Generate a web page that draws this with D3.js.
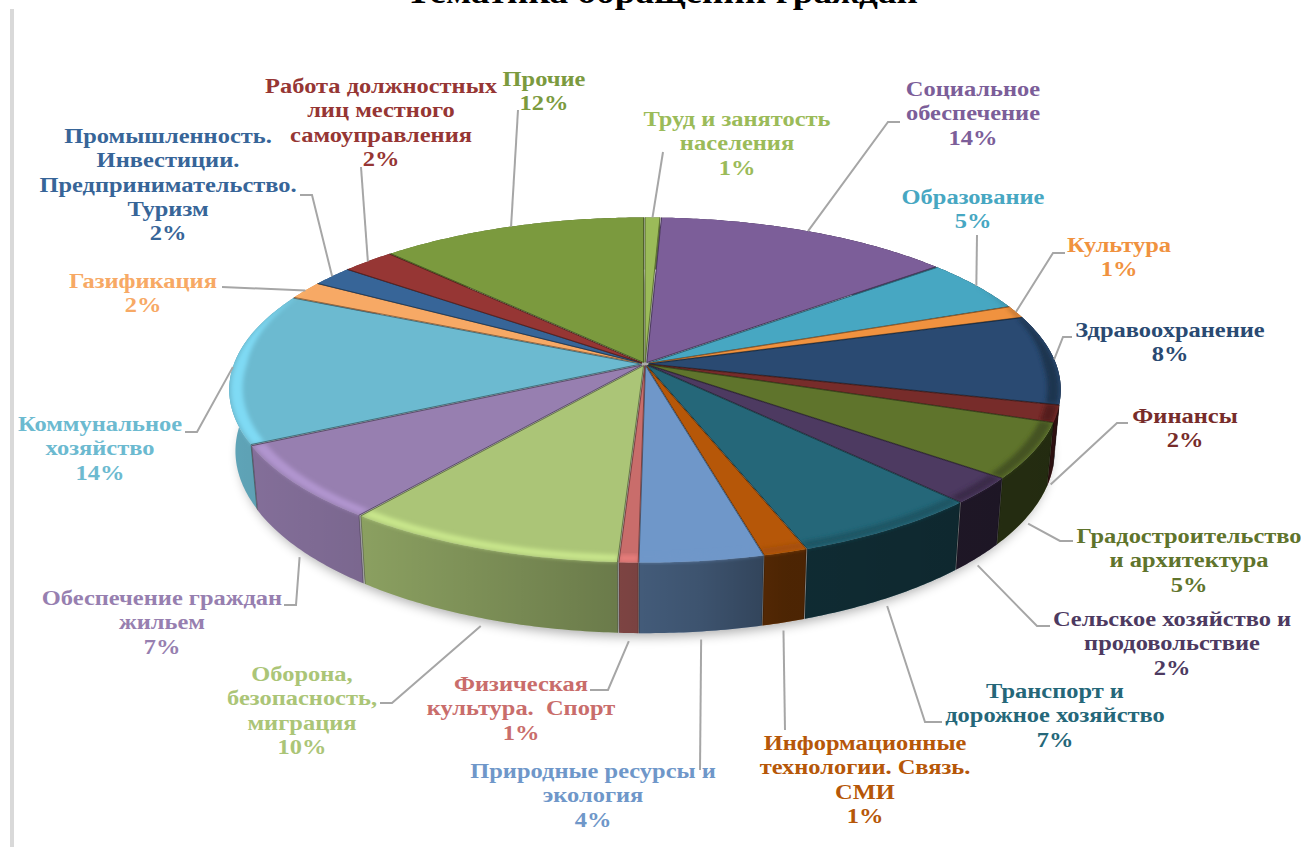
<!DOCTYPE html>
<html lang="ru">
<head>
<meta charset="utf-8">
<title>Тематика обращений граждан</title>
<script src="https://cdn.jsdelivr.net/npm/d3@7"></script>
<style>
  html, body { margin: 0; background: #fff; overflow: hidden; }
  svg { display: block; }
  text { white-space: pre; }
</style>
</head>
<body>
<script>
const categories = [
  "Труд и занятость населения", "Социальное обеспечение", "Образование", "Культура",
  "Здравоохранение", "Финансы", "Градостроительство и архитектура",
  "Сельское хозяйство и продовольствие", "Транспорт и дорожное хозяйство",
  "Информационные технологии. Связь. СМИ", "Природные ресурсы и экология",
  "Физическая культура. Спорт", "Оборона, безопасность, миграция",
  "Обеспечение граждан жильем", "Коммунальное хозяйство", "Газификация",
  "Промышленность. Инвестиции. Предпринимательство. Туризм",
  "Работа должностных лиц местного самоуправления", "Прочие",
];
const values = [
  0.67, 13.5, 5.0, 1.14, 8.45, 1.56, 5.2, 2.47, 6.5, 1.49,
  4.2, 0.64, 9.6, 7.1, 14.3, 1.7, 1.9, 2.4, 12.1,
];
const colors = [
  "#9bbb59", "#7c5e99", "#47a7c2", "#f0923f", "#2a4a72", "#772c2a", "#5f742c",
  "#4d3a61", "#256779", "#b65708", "#6f97c9", "#c96d6b", "#abc577", "#977fb0",
  "#6cbad0", "#f7a965", "#376598", "#963634", "#7b9a3e",
];
const labelLines = [
  ["Труд и занятость", "населения"],
  ["Социальное", "обеспечение"],
  ["Образование"],
  ["Культура"],
  ["Здравоохранение"],
  ["Финансы"],
  ["Градостроительство", "и архитектура"],
  ["Сельское хозяйство и", "продовольствие"],
  ["Транспорт и", "дорожное хозяйство"],
  ["Информационные", "технологии. Связь.", "СМИ"],
  ["Природные ресурсы и", "экология"],
  ["Физическая", "культура.  Спорт"],
  ["Оборона,", "безопасность,", "миграция"],
  ["Обеспечение граждан", "жильем"],
  ["Коммунальное", "хозяйство"],
  ["Газификация"],
  ["Промышленность.", "Инвестиции.", "Предпринимательство.", "Туризм"],
  ["Работа должностных", "лиц местного", "самоуправления"],
  ["Прочие"],
];

// label centre x, middle of its first line, then the leader's way to the label
const labelLayout = [
  { x: 737, y: 119, leader: [[663, 152]] },
  { x: 973, y: 89, leader: [[888, 122], [900, 122]] },
  { x: 973, y: 197, leader: [[977, 235]] },
  { x: 1119, y: 245, leader: [[1053, 253], [1065, 253]] },
  { x: 1170, y: 330, leader: [[1063, 337], [1072, 337]] },
  { x: 1185, y: 416, leader: [[1117, 423], [1128, 423]] },
  { x: 1189, y: 536, leader: [[1060, 541], [1073, 541]] },
  { x: 1172, y: 619, leader: [[1037, 626], [1050, 626]] },
  { x: 1055, y: 691, leader: [[925, 722], [942, 722]] },
  { x: 865, y: 743, leader: [[785, 730]] },
  { x: 593, y: 771, leader: [[700, 770]] },
  { x: 521, y: 684, leader: [[608, 690], [590, 690]] },
  { x: 302, y: 674, leader: [[392, 703], [380, 703]] },
  { x: 162, y: 598, leader: [[296, 605], [284, 605]] },
  { x: 100, y: 424, leader: [[197, 432], [185, 432]] },
  { x: 143, y: 281, leader: [[222, 287]] },
  { x: 168, y: 136, leader: [[312, 195], [300, 195]] },
  { x: 381, y: 86, leader: [[361, 167]] },
  { x: 544, y: 79, leader: [[518, 110]] },
];

const width = 1301;
const height = 847;
const perspective = 0.149;
const depth = 60;
const bottomInset = 0.985;
const explode = 0.01;
const lineHeight = 24.3;
const textStretch = 1.165;

const xScale = d3.scaleLinear().domain([-1, 1]).range([238, 1052]);
const yScale = d3.scaleLinear().domain([-1, 1]).range([197, 531]);

const slices = d3.pie().sort(null).startAngle(0).endAngle(2 * Math.PI)(values);

const project = (angle, radius, drop, slice) => {
  const mid = slice ? (slice.startAngle + slice.endAngle) / 2 : 0;
  const offset = slice ? explode : 0;
  const u = radius * Math.sin(angle) + offset * Math.sin(mid);
  const v = -radius * Math.cos(angle) - offset * Math.cos(mid);
  const s = 1 / (1 - perspective * v);
  const inset = 1 - (1 - bottomInset) * drop;
  return [xScale(u * s * inset), yScale(v * s) + depth * s * drop];
};

const rimAngles = (d) => {
  const step = 0.01;
  return d3.range(d.startAngle, d.endAngle, step).concat(d.endAngle);
};

const line = d3.line();
const closed = d3.line().curve(d3.curveLinearClosed);

const topPoints = (d) => [
  project(0, 0, 0, d),
  ...rimAngles(d).map((a) => project(a, 1, 0, d)),
];
const wallPoints = (d) => [
  ...rimAngles(d).map((a) => project(a, 1, 0, d)),
  ...rimAngles(d).reverse().map((a) => project(a, 1, 1, d)),
];
// rounded edge: widest on the front of the pie, nothing on the far side
const bevelPoints = (d) => {
  const band = (a) => Math.max(0, Math.min(1, (0.5 - Math.cos(a)) / 0.5));
  return [
    ...rimAngles(d).map((a) => project(a, 1 - 0.032 * band(a), 0, d)),
    ...rimAngles(d).reverse().map((a) => project(a, 1 - 0.004 * band(a), 0, d)),
  ];
};

const svg = d3.select("body").append("svg").attr("width", width).attr("height", height);
const defs = svg.append("defs");

defs.append("filter").attr("id", "shadowBlur")
  .attr("x", "-10%").attr("y", "-10%").attr("width", "120%").attr("height", "120%")
  .append("feGaussianBlur").attr("stdDeviation", 6);
defs.append("filter").attr("id", "bevelBlur")
  .attr("x", "-10%").attr("y", "-20%").attr("width", "120%").attr("height", "140%")
  .append("feGaussianBlur").attr("stdDeviation", 2);

// walls get darker from the left of the pie to the right
const wallShade = defs.append("linearGradient").attr("id", "wallShade")
  .attr("gradientUnits", "userSpaceOnUse")
  .attr("x1", 230).attr("x2", 1060).attr("y1", 0).attr("y2", 0);
[[230, 0.12], [363, 0.19], [620, 0.38], [700, 0.45], [785, 0.58], [880, 0.6], [1060, 0.63]]
  .forEach(([x, opacity]) => {
    wallShade.append("stop")
      .attr("offset", (x - 230) / 830)
      .attr("stop-color", "#000")
      .attr("stop-opacity", opacity);
  });

const bevelTone = d3.scaleLinear().domain([230, 620, 720, 1060]).range([0.45, 0.45, -0.1, -1]);

slices.forEach((d, i) => {
  const clip = defs.append("clipPath").attr("id", `sliceClip${i}`);
  clip.append("path").attr("d", closed(topPoints(d)));
  clip.append("path").attr("d", closed(wallPoints(d)));
});

svg.append("rect")
  .attr("x", 10).attr("y", 9).attr("width", 4).attr("height", height - 9)
  .attr("fill", "#d9d9d9");

svg.append("text")
  .attr("x", 662).attr("y", 3)
  .attr("text-anchor", "middle")
  .attr("font-family", "'Liberation Serif', serif")
  .attr("font-weight", "bold")
  .attr("font-size", 34)
  .attr("textLength", 512)
  .attr("lengthAdjust", "spacingAndGlyphs")
  .attr("fill", "#000")
  .text("Тематика обращений граждан");

const pieGroup = svg.append("g");

const fullTurn = d3.range(0, 2 * Math.PI, 0.02);
pieGroup.append("path")
  .attr("d", closed(fullTurn.map((a) => project(a, 1, 1.08))))
  .attr("fill", "#000")
  .attr("opacity", 0.33)
  .attr("filter", "url(#shadowBlur)");

const midCos = (d) => Math.cos((d.startAngle + d.endAngle) / 2);
const order = d3.range(slices.length).sort((a, b) => midCos(slices[b]) - midCos(slices[a]));

// outer walls, far side first
const walls = pieGroup.append("g").selectAll("g").data(order).enter().append("g");
walls.append("path")
  .attr("d", (i) => closed(wallPoints(slices[i])))
  .attr("fill", (i) => colors[i]);
walls.append("path")
  .attr("d", (i) => closed(wallPoints(slices[i])))
  .attr("fill", "url(#wallShade)");
walls.append("path")
  .attr("d", (i) => {
    const d = slices[i];
    return line([project(d.startAngle, 1, 0, d), project(d.startAngle, 1, 1, d)]) +
      line([project(d.endAngle, 1, 0, d), project(d.endAngle, 1, 1, d)]);
  })
  .attr("fill", "none")
  .attr("stroke", "#000")
  .attr("stroke-opacity", 0.3)
  .attr("stroke-width", 1);

// top faces
const tops = pieGroup.append("g").selectAll("g").data(slices).enter().append("g");
tops.append("path")
  .attr("d", (d) => closed(topPoints(d)))
  .attr("fill", (d, i) => colors[i]);
tops.append("g")
  .attr("clip-path", (d, i) => `url(#sliceClip${i})`)
  .append("path")
  .attr("d", (d) => closed(bevelPoints(d)))
  .attr("fill", (d, i) => {
    const mid = project((d.startAngle + d.endAngle) / 2, 1, 0, d);
    return d3.color(colors[i]).brighter(bevelTone(mid[0])).formatHex();
  })
  .attr("filter", "url(#bevelBlur)");
tops.append("path")
  .attr("d", (d) => line([
    project(d.startAngle, 1, 0, d), project(0, 0, 0, d), project(d.endAngle, 1, 0, d),
  ]))
  .attr("fill", "none")
  .attr("stroke", (d, i) => d3.color(colors[i]).darker(1.4).formatHex())
  .attr("stroke-width", 1);

// leaders start at the slice middle: top rim behind, bottom rim in front
const leaderStart = (d) => {
  const mid = (d.startAngle + d.endAngle) / 2;
  const front = -Math.cos(mid) > 0.1;
  const p = project(mid, 1, front ? 1 : 0, d);
  return front ? [p[0], p[1] + 8] : p;
};

svg.append("g").selectAll("path").data(slices).enter().append("path")
  .attr("d", (d, i) => line([leaderStart(d), ...labelLayout[i].leader]))
  .attr("fill", "none")
  .attr("stroke", "#a6a6a6")
  .attr("stroke-width", 2);

const labels = svg.append("g")
  .attr("font-family", "'Liberation Serif', serif")
  .attr("font-weight", "bold")
  .attr("font-size", 21)
  .attr("text-anchor", "middle")
  .selectAll("g").data(slices).enter().append("g")
  .attr("fill", (d, i) => colors[i])
  .attr("transform", (d, i) => `translate(${labelLayout[i].x} ${labelLayout[i].y + 7}) scale(${textStretch} 1)`);

labels.selectAll("text")
  .data((d, i) => [...labelLines[i], `${Math.round(d.value)}%`])
  .enter().append("text")
  .attr("y", (t, j) => j * lineHeight)
  .text((t) => t);
</script>
</body>
</html>
